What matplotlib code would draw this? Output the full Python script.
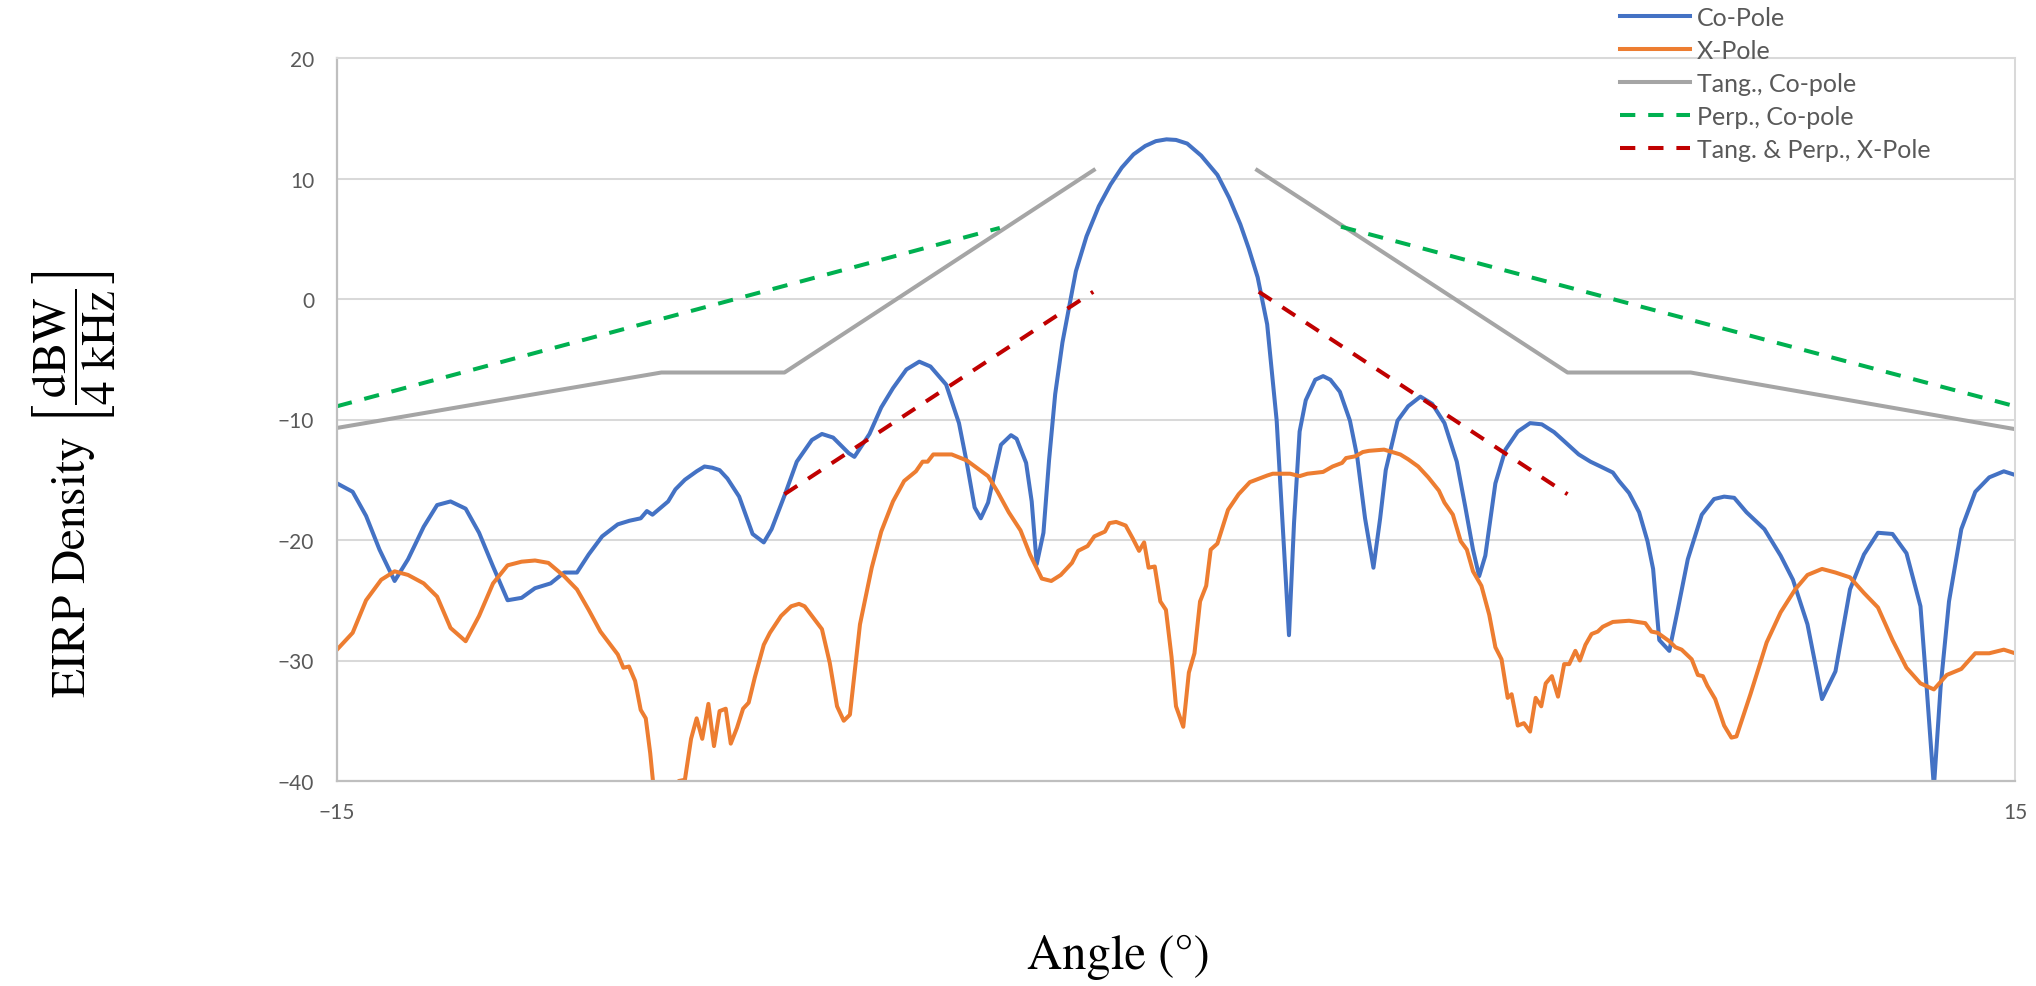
import matplotlib
matplotlib.use('Agg')
import matplotlib.pyplot as plt

plt.rcParams['font.family'] = ['Lato', 'DejaVu Sans']
plt.rcParams['mathtext.fontset'] = 'stix'

# Co-Pole
co_x = [-15, -14.72, -14.48, -14.24, -13.97, -13.73, -13.45, -13.21, -12.97, -12.70,
        -12.46, -12.21, -11.95, -11.70, -11.46, -11.18, -10.94, -10.71, -10.50, -10.26,
        -9.98, -9.77, -9.57, -9.46, -9.36, -9.08, -8.95, -8.78, -8.57, -8.43,
        -8.29, -8.16, -8.02, -7.81, -7.57, -7.37, -7.23, -6.99, -6.78, -6.51,
        -6.33, -6.13, -5.85, -5.75, -5.48, -5.27, -5.06, -4.82, -4.59, -4.39,
        -4.11, -3.88, -3.74, -3.60, -3.49, -3.36, -3.13, -2.95, -2.85, -2.68,
        -2.58, -2.49, -2.37, -2.27, -2.16, -2.03, -1.79, -1.60, -1.38, -1.17,
        -0.97, -0.76, -0.55, -0.36, -0.17, 0.0, 0.20, 0.45, 0.74, 0.95,
        1.15, 1.30, 1.46, 1.63, 1.80, 1.91, 2.02, 2.11, 2.21, 2.32,
        2.49, 2.63, 2.76, 2.93, 3.11, 3.24, 3.38, 3.53, 3.65, 3.75,
        3.96, 4.15, 4.37, 4.58, 4.80, 5.02, 5.17, 5.31, 5.42, 5.53,
        5.71, 5.89, 6.11, 6.33, 6.54, 6.76, 6.94, 7.20, 7.41, 7.59,
        7.81, 7.92, 8.10, 8.28, 8.43, 8.53, 8.64, 8.82, 8.97, 9.15,
        9.40, 9.62, 9.80, 9.98, 10.20, 10.52, 10.81, 11.03, 11.29, 11.43,
        11.55, 11.79, 12.05, 12.30, 12.55, 12.81, 13.06, 13.31, 13.42, 13.55,
        13.67, 13.82, 14.04, 14.29, 14.54, 14.80, 15]
co_y = [-15.3, -16.0, -18.0, -20.8, -23.4, -21.6, -18.9, -17.1, -16.8, -17.4,
        -19.4, -22.2, -25.0, -24.8, -24.0, -23.6, -22.7, -22.7, -21.2, -19.7,
        -18.7, -18.4, -18.2, -17.6, -17.9, -16.8, -15.8, -15.0, -14.3, -13.9,
        -14.0, -14.2, -14.9, -16.4, -19.5, -20.2, -19.1, -16.2, -13.5, -11.7,
        -11.2, -11.5, -12.8, -13.1, -11.2, -9.0, -7.4, -5.85, -5.2, -5.6,
        -7.1, -10.3, -13.6, -17.3, -18.2, -16.9, -12.1, -11.3, -11.6, -13.6,
        -16.8, -22.0, -19.4, -13.4, -7.9, -3.6, 2.3, 5.2, 7.7, 9.5,
        10.9, 12.0, 12.7, 13.1, 13.25, 13.2, 12.9, 11.9, 10.3, 8.4,
        6.2, 4.2, 1.8, -2.1, -10.1, -19.0, -27.9, -18.6, -11.0, -8.4,
        -6.7, -6.4, -6.7, -7.7, -10.1, -13.1, -18.2, -22.3, -18.2, -14.2,
        -10.1, -8.9, -8.1, -8.7, -10.3, -13.5, -17.2, -20.8, -23.0, -21.3,
        -15.3, -12.5, -11.0, -10.3, -10.4, -11.05, -11.8, -12.9, -13.5, -13.9,
        -14.4, -15.1, -16.1, -17.7, -20.1, -22.4, -28.3, -29.2, -25.8, -21.6,
        -17.9, -16.6, -16.4, -16.5, -17.7, -19.1, -21.3, -23.3, -27.0, -30.3,
        -33.2, -30.9, -24.1, -21.2, -19.4, -19.5, -21.1, -25.5, -32.2, -40.5,
        -32.2, -25.1, -19.1, -16.0, -14.8, -14.3, -14.6]

# X-Pole
xp_x = [-15, -14.72, -14.48, -14.21, -13.97, -13.73, -13.45, -13.21, -12.97, -12.70,
        -12.46, -12.21, -11.95, -11.70, -11.46, -11.22, -10.94, -10.71, -10.50, -10.29,
        -9.98, -9.88, -9.78, -9.67, -9.57, -9.48, -9.40, -9.33, -9.25, -8.97,
        -8.89, -8.78, -8.67, -8.57, -8.47, -8.36, -8.26, -8.16, -8.05, -7.96,
        -7.85, -7.74, -7.64, -7.53, -7.37, -7.26, -7.06, -6.88, -6.74, -6.64,
        -6.33, -6.19, -6.06, -5.94, -5.83, -5.65, -5.44, -5.27, -5.06, -4.86,
        -4.65, -4.53, -4.44, -4.34, -4.01, -3.74, -3.36, -3.19, -2.99, -2.78,
        -2.61, -2.40, -2.23, -2.06, -1.86, -1.75, -1.58, -1.46, -1.27, -1.19,
        -1.07, -0.90, -0.77, -0.66, -0.57, -0.49, -0.38, -0.28, -0.18, -0.08,
        0.0, 0.13, 0.23, 0.33, 0.43, 0.54, 0.62, 0.74, 0.93, 1.12,
        1.32, 1.49, 1.63, 1.73, 2.04, 2.21, 2.35, 2.63, 2.80, 2.97,
        3.04, 3.21, 3.34, 3.45, 3.72, 4.01, 4.15, 4.33, 4.51, 4.70,
        4.80, 4.95, 5.09, 5.20, 5.31, 5.46, 5.60, 5.71, 5.82, 5.93,
        6.00, 6.11, 6.22, 6.33, 6.43, 6.53, 6.61, 6.72, 6.83, 6.94,
        7.03, 7.14, 7.22, 7.32, 7.43, 7.54, 7.63, 7.81, 8.10, 8.39,
        8.50, 8.61, 8.82, 8.93, 9.04, 9.22, 9.33, 9.42, 9.50, 9.64,
        9.80, 9.93, 10.02, 10.27, 10.56, 10.81, 11.07, 11.29, 11.55, 11.79,
        12.05, 12.30, 12.55, 12.81, 13.06, 13.31, 13.55, 13.78, 14.04, 14.29,
        14.54, 14.80, 15]
xp_y = [-29.1, -27.7, -25.0, -23.3, -22.6, -22.9, -23.6, -24.7, -27.3, -28.4,
        -26.3, -23.6, -22.1, -21.8, -21.7, -21.9, -23.0, -24.1, -25.8, -27.6,
        -29.5, -30.6, -30.5, -31.7, -34.1, -34.8, -37.7, -41.0, -45.0, -45.0,
        -40.0, -39.9, -36.5, -34.8, -36.5, -33.6, -37.1, -34.2, -34.0, -36.9,
        -35.6, -34.0, -33.5, -31.4, -28.7, -27.7, -26.3, -25.5, -25.3, -25.5,
        -27.4, -30.2, -33.8, -35.0, -34.5, -27.0, -22.3, -19.3, -16.8, -15.1,
        -14.3, -13.5, -13.5, -12.9, -12.9, -13.4, -14.7, -16.0, -17.7, -19.2,
        -21.2, -23.2, -23.4, -22.9, -21.9, -20.9, -20.5, -19.7, -19.3, -18.6,
        -18.5, -18.8, -19.9, -20.9, -20.2, -22.3, -22.2, -25.1, -25.8, -29.7,
        -33.8, -35.5, -31.0, -29.4, -25.1, -23.8, -20.8, -20.3, -17.5, -16.2,
        -15.2, -14.9, -14.65, -14.5, -14.5, -14.7, -14.5, -14.35, -13.9, -13.6,
        -13.2, -13.05, -12.7, -12.6, -12.5, -12.9, -13.3, -13.9, -14.8, -15.9,
        -16.9, -17.9, -20.1, -20.8, -22.6, -23.8, -26.2, -28.9, -29.9, -33.1,
        -32.8, -35.4, -35.2, -35.9, -33.1, -33.8, -31.9, -31.3, -33.0, -30.3,
        -30.3, -29.2, -30.0, -28.7, -27.8, -27.6, -27.2, -26.8, -26.7, -26.9,
        -27.6, -27.7, -28.4, -28.9, -29.1, -29.9, -31.2, -31.3, -32.1, -33.2,
        -35.4, -36.4, -36.3, -32.8, -28.5, -26.0, -24.1, -22.9, -22.4, -22.7,
        -23.1, -24.4, -25.6, -28.3, -30.6, -31.9, -32.4, -31.2, -30.7, -29.4,
        -29.4, -29.1, -29.4]

# envelopes (left and right branches)
tang_lx = [-15, -9.2, -7.0, -1.47]
tang_ly = [-10.7, -6.1, -6.1, 10.7]
tang_rx = [1.45, 7.0, 9.2, 15]
tang_ry = [10.7, -6.1, -6.1, -10.8]
perp_lx = [-15, -3.15]
perp_ly = [-8.9, 5.9]
perp_rx = [2.95, 15]
perp_ry = [6.0, -8.9]
xenv_lx = [-7.0, -1.48]
xenv_ly = [-16.2, 0.6]
xenv_rx = [1.48, 7.0]
xenv_ry = [0.6, -16.2]

labels = ['Co-Pole', 'X-Pole', 'Tang., Co-pole', 'Perp., Co-pole', 'Tang. & Perp., X-Pole']
colors = ['#4472C4', '#ED7D31', '#A5A5A5', '#00B050', '#C00000']

fig = plt.figure(figsize=(20.36, 9.87), dpi=100)
ax = fig.add_axes([337/2036, 1-782/987, 1678/2036, 723/987])

lw = 2.9
dash = (3.8, 3.2)
ax.plot(co_x, co_y, color=colors[0], lw=lw, label=labels[0])
ax.plot(xp_x, xp_y, color=colors[1], lw=lw, label=labels[1])
ax.plot(tang_lx, tang_ly, color=colors[2], lw=lw, label=labels[2])
ax.plot(tang_rx, tang_ry, color=colors[2], lw=lw)
ax.plot(perp_lx, perp_ly, color=colors[3], lw=lw, dashes=dash, label=labels[3])
ax.plot(perp_rx, perp_ry, color=colors[3], lw=lw, dashes=dash)
ax.plot(xenv_lx, xenv_ly, color=colors[4], lw=lw, dashes=dash, label=labels[4])
ax.plot(xenv_rx, xenv_ry, color=colors[4], lw=lw, dashes=dash)

ax.set_xlim(-15, 15)
ax.set_ylim(-40, 20)
ax.set_xticks([-15, 15])
ax.set_yticks(range(-40, 21, 10))
ax.grid(axis='y', color='#D9D9D9', lw=1.45)
ax.set_axisbelow(True)
ax.tick_params(length=0, labelsize=15, labelcolor='#595959')
ax.tick_params(axis='y', pad=16.5)
ax.tick_params(axis='x', pad=15)
for s in ['left', 'bottom']:
    ax.spines[s].set_color('#BFBFBF')
    ax.spines[s].set_linewidth(1.6)
for s in ['top', 'right']:
    ax.spines[s].set_color('#D9D9D9')
    ax.spines[s].set_linewidth(1.45)

leg = fig.legend(loc='upper left', bbox_to_anchor=(1620/2036, 1-7/987), frameon=False,
                 fontsize=18, handlelength=2.8, handletextpad=0.28, labelspacing=0.4,
                 borderpad=0, borderaxespad=0)
for t in leg.get_texts():
    t.set_color('#595959')

fig.text(1118/2036, 1-957/987, 'Angle (°)', ha='center', va='center',
         fontsize=35, family='STIXGeneral')
fig.text(74/2036, 1-484/987,
         r'EIRP Density $\left[\dfrac{\mathrm{dBW}}{\mathrm{4\ kHz}}\right]$',
         ha='center', va='center', rotation=90, fontsize=34, family='STIXGeneral')

fig.savefig('out.png', dpi=100)
